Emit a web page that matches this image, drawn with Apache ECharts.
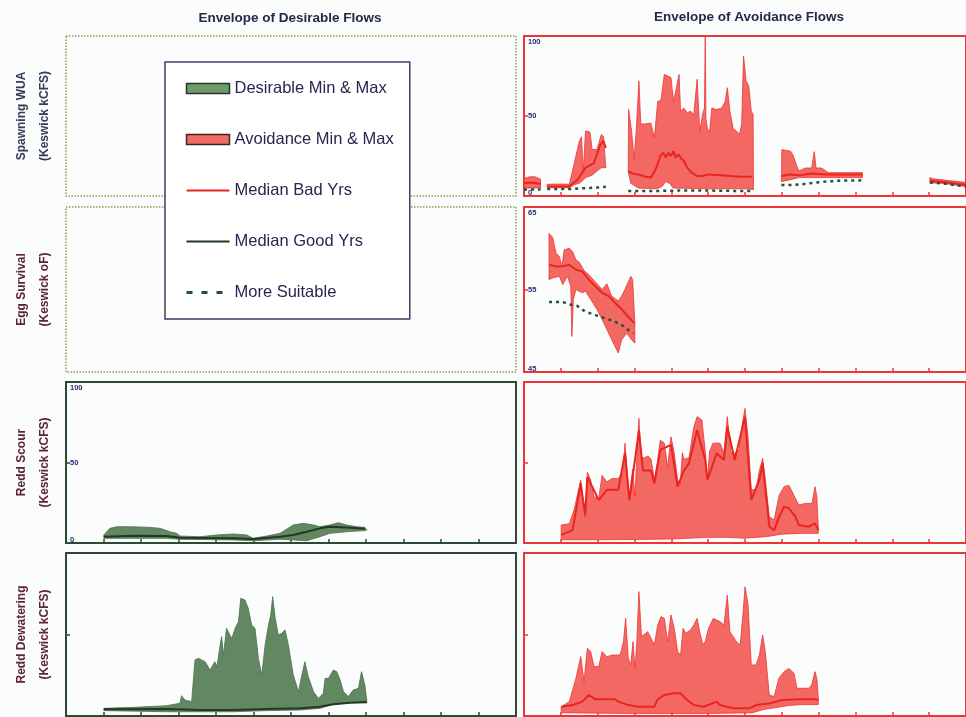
<!DOCTYPE html>
<html>
<head>
<meta charset="utf-8">
<script src="https://cdn.jsdelivr.net/npm/echarts@6.0.0/dist/echarts.min.js"></script>
<style>
  html, body { margin: 0; padding: 0; background: #fbfcfc; }
  #chart { width: 966px; height: 717px; }
</style>
</head>
<body>
<div id="chart"></div>
<script>
// x runs 0..12 (one tick per unit)
var xTicks = [1, 2, 3, 4, 5, 6, 7, 8, 9, 10, 11]

var rowNames = [
  'Spawning WUA\n(Keswick kCFS)',
  'Egg Survival\n(Keswick oF)',
  'Redd Scour\n(Keswick kCFS)',
  'Redd Dewatering\n(Keswick kCFS)'
]
var flowTicks = [0, 50, 100]
var tempTicks = [45, 55, 65]

// Spawning WUA - avoidance (five separate runs)
var spawnAvoidMax = [
  [[0, 11], [0.15, 12], [0.3, 12], [0.45, 10.5]],
  [[0.63, 7.3], [0.9, 7.5], [1.23, 7.3], [1.36, 20], [1.5, 34], [1.56, 37], [1.61, 15], [1.67, 40.6], [1.79, 40], [1.85, 29], [1.98, 29], [2.1, 38.5], [2.16, 37], [2.22, 17.7]],
  [[2.83, 15], [2.84, 54], [2.92, 40.6], [2.99, 23], [3.05, 42], [3.12, 72], [3.17, 45], [3.28, 45], [3.44, 45.6], [3.54, 36.5], [3.63, 59], [3.72, 60], [3.81, 76], [3.99, 74], [4.06, 59], [4.15, 69], [4.21, 76], [4.25, 53], [4.34, 55], [4.43, 52], [4.52, 53], [4.61, 51], [4.7, 73], [4.77, 40.6], [4.86, 52], [4.9, 55], [4.92, 100], [4.94, 48], [4.98, 42], [5.04, 40], [5.1, 55], [5.23, 54], [5.37, 55], [5.46, 59], [5.52, 67.7], [5.59, 53], [5.68, 42], [5.77, 40.6], [5.85, 38.5], [5.91, 45], [5.96, 87.5], [6.03, 72], [6.1, 69], [6.17, 53], [6.22, 51], [6.23, 4]],
  [[6.99, 9], [7.0, 29], [7.12, 28.5], [7.24, 28], [7.3, 25.8], [7.41, 18.5], [7.46, 15.6], [7.64, 17.5], [7.81, 17.5], [7.88, 27.7], [7.93, 17.5], [8.08, 17.5], [8.17, 16], [8.26, 14.6], [9.19, 14.6]],
  [[11.02, 11.5], [11.1, 10.8], [11.4, 10], [11.8, 9], [12, 8.5]]
]
var spawnAvoidMin = [
  [[0, 5], [0.45, 5]],
  [[0.63, 5.2], [1.23, 5.2], [1.36, 7], [1.5, 8], [1.61, 10], [1.67, 11.5], [1.85, 13], [2.0, 16], [2.1, 17.7], [2.22, 17.7]],
  [[2.83, 15], [2.9, 8], [3.1, 5], [3.6, 4.5], [3.75, 6], [3.85, 9], [3.95, 8], [4.05, 5], [5.0, 4.5], [6.0, 4.5], [6.23, 4]],
  [[6.99, 9], [7.2, 10], [7.46, 11.5], [9.19, 11.5]],
  [[11.02, 8.3], [11.4, 7.8], [11.8, 6.5], [12, 6]]
]
var spawnBadMedian = [
  [[0, 8], [0.2, 8.5], [0.45, 7.5]],
  [[0.63, 6], [1.23, 6], [1.45, 10], [1.67, 17.7], [1.9, 20.6], [2.07, 32], [2.16, 34.4], [2.22, 30]],
  [[2.83, 15.6], [2.95, 14], [3.1, 13.5], [3.3, 12], [3.45, 11.5], [3.6, 18], [3.7, 25], [3.78, 27], [3.85, 24], [3.92, 27], [3.99, 25], [4.06, 28], [4.12, 24], [4.2, 26], [4.28, 23], [4.34, 22], [4.43, 17.7], [4.55, 14.6], [4.7, 12.5], [4.85, 12.5], [5.0, 13.5], [5.3, 13], [5.6, 12.5], [5.9, 12], [6.2, 12]],
  [[6.99, 12.5], [7.2, 13.5], [7.5, 13], [7.8, 14], [8.2, 13.5], [8.6, 13.5], [9.19, 13.5]],
  [[11.02, 9.5], [11.4, 8.8], [11.8, 7.5], [12, 7]]
]
var spawnSuitable = [
  [[0, 4], [0.45, 4]],
  [[0.63, 4.3], [1.2, 4.3], [1.6, 4.8], [2.0, 5.3], [2.22, 5.8]],
  [[2.83, 3.1], [3.5, 3.1], [4.2, 3.4], [5.0, 3.4], [5.6, 3.2], [6.23, 3.1]],
  [[6.99, 6.9], [7.3, 6.9], [7.6, 7.5], [7.9, 8.3], [8.2, 9], [8.6, 9.6], [9.19, 9.8]],
  [[11.02, 8.5], [11.4, 7.8], [11.8, 6.5], [12, 6]]
]

// Egg survival - avoidance (deg F)
var eggAvoidMax = [[0.68, 61.8], [0.78, 61.3], [0.87, 59.4], [0.96, 59], [1.03, 57.8], [1.09, 59.8], [1.23, 60], [1.32, 59.6], [1.41, 58.6], [1.5, 58.3], [1.63, 57.3], [1.76, 56.8], [1.94, 55.9], [2.12, 55], [2.25, 55.7], [2.38, 54.2], [2.56, 53.6], [2.65, 54.2], [2.74, 55], [2.9, 56.6], [2.95, 56.2], [3.01, 50.9]]
var eggAvoidMin = [[0.68, 56.2], [0.78, 56.4], [0.96, 56.6], [1.05, 55.6], [1.18, 56.6], [1.27, 55.4], [1.3, 49.3], [1.34, 53.8], [1.41, 55], [1.58, 54.6], [1.67, 54.8], [1.81, 53.8], [1.98, 52.6], [2.16, 51], [2.34, 49.3], [2.47, 48.1], [2.56, 47.3], [2.65, 48.9], [2.79, 49.7], [2.92, 48.9], [3.01, 48.5]]
var eggBadMedian = [[0.68, 58], [0.87, 57.8], [1.05, 57.8], [1.23, 58], [1.41, 57.4], [1.58, 57.2], [1.76, 56.2], [1.94, 55.4], [2.12, 54.6], [2.3, 54.2], [2.47, 53.4], [2.65, 52.6], [2.83, 51.7], [3.0, 50.9]]
var eggSuitable = [[0.68, 53.5], [1.05, 53.5], [1.23, 53.2], [1.45, 53], [1.67, 52.3], [1.94, 51.9], [2.21, 51.5], [2.47, 51.1], [2.65, 50.7], [2.83, 50.1], [2.96, 49.7]]

// Redd scour (kCFS)
var scourDesireMax = [[1.01, 5], [1.17, 9.1], [1.35, 10.1], [1.8, 10.1], [2.24, 9.7], [2.51, 9.1], [2.77, 7], [2.95, 6], [3.04, 4.3], [3.57, 3.9], [4.02, 5], [4.46, 5.6], [4.82, 5], [4.99, 2.9], [5.35, 4.3], [5.71, 6], [5.88, 8.5], [6.06, 11.2], [6.33, 12.2], [6.6, 11.2], [6.77, 10.1], [7.04, 11.2], [7.26, 12.6], [7.48, 11.2], [7.75, 10.1], [7.97, 9.7], [8.02, 8]]
var scourDesireMin = [[1.01, 2.9], [1.8, 2.9], [2.68, 2.9], [3.04, 2.3], [4.46, 1.9], [4.99, 1.4], [5.71, 2.3], [6.06, 1.9], [6.42, 1.4], [6.77, 3.9], [7.04, 6], [7.48, 7], [7.97, 7.7], [8.02, 8]]
var scourGoodMedian = [[1.01, 3.9], [1.8, 4.5], [2.68, 4.3], [3.04, 3.3], [4.46, 2.9], [4.99, 2.5], [5.71, 3.9], [6.06, 5], [6.42, 7], [6.77, 9.1], [7.04, 10.1], [7.48, 9.7], [7.97, 8.9]]
var scourAvoidMax = [[1.01, 11.2], [1.23, 12], [1.36, 20.5], [1.48, 33], [1.54, 39], [1.61, 25], [1.66, 16], [1.72, 44], [1.81, 39], [1.9, 28.8], [2.03, 27.7], [2.12, 42], [2.25, 38], [2.39, 40], [2.56, 40], [2.7, 45], [2.74, 62], [2.8, 45], [2.86, 29], [2.95, 46], [3.01, 29], [3.07, 55.6], [3.12, 77.4], [3.17, 55], [3.23, 52.6], [3.37, 54], [3.45, 52], [3.54, 39.5], [3.63, 51.5], [3.7, 64], [3.81, 62], [3.9, 47], [3.99, 66], [4.08, 55.7], [4.17, 39.5], [4.24, 36], [4.3, 56], [4.34, 52], [4.48, 53], [4.61, 72], [4.7, 78.5], [4.83, 76.4], [4.92, 57], [4.98, 39.5], [5.04, 57], [5.13, 62], [5.32, 62], [5.43, 56], [5.52, 78.5], [5.61, 56.7], [5.72, 55.7], [5.84, 58], [5.93, 74.3], [6.0, 83.6], [6.08, 66], [6.17, 33], [6.3, 33], [6.39, 45], [6.48, 52.6], [6.55, 39.5], [6.66, 16.4], [6.79, 14.3], [6.93, 29.8], [7.06, 35], [7.19, 35.8], [7.28, 31.9], [7.37, 27.7], [7.46, 23.6], [7.64, 24.6], [7.82, 24.6], [7.9, 35], [7.95, 28.8], [7.99, 10]]
var scourAvoidMin = [[1.01, 2], [2.0, 2], [3.0, 2.2], [4.0, 2.5], [5.0, 3.5], [5.5, 3.5], [6.0, 3], [6.6, 4], [7.0, 5.5], [7.5, 6], [7.99, 6]]
var scourBadMedian = [[1.01, 5], [1.32, 8], [1.54, 37], [1.66, 17.6], [1.72, 41], [2.03, 26.7], [2.25, 33], [2.56, 33], [2.74, 56], [2.86, 26.7], [2.95, 41], [3.12, 70], [3.23, 45], [3.45, 45], [3.54, 37], [3.7, 57.8], [3.99, 60.9], [4.17, 35], [4.34, 45], [4.48, 49.5], [4.7, 70], [4.92, 51.6], [4.98, 39.3], [5.23, 55.7], [5.43, 51.6], [5.52, 72.2], [5.72, 51.6], [6.0, 78.5], [6.17, 26.7], [6.39, 39.3], [6.48, 49.5], [6.66, 10.1], [6.79, 8], [6.93, 16.4], [7.06, 22.6], [7.19, 21.5], [7.37, 16.4], [7.46, 11.2], [7.73, 10.1], [7.9, 12.2], [7.99, 8]]

// Redd dewatering (kCFS)
var dewatDesireMax = [[1.01, 4.7], [1.8, 5.3], [2.68, 6.3], [3.04, 7.8], [3.08, 12.5], [3.17, 9.8], [3.35, 8.8], [3.44, 34.4], [3.53, 35.4], [3.71, 33.3], [3.84, 28.2], [3.97, 33.3], [4.02, 30.3], [4.06, 35.4], [4.11, 43.6], [4.15, 48.7], [4.2, 37.4], [4.28, 53.8], [4.37, 49.7], [4.42, 47.6], [4.51, 53.8], [4.6, 57.9], [4.66, 72.2], [4.77, 71.2], [4.86, 66.1], [4.95, 55.8], [5.04, 53.8], [5.13, 35.4], [5.22, 25.2], [5.31, 43.6], [5.4, 55.8], [5.46, 62], [5.51, 73.2], [5.58, 59.9], [5.66, 49.7], [5.75, 50.7], [5.84, 52.8], [5.93, 43.6], [6.06, 25.2], [6.2, 14.9], [6.28, 24.1], [6.37, 33.3], [6.46, 24.1], [6.6, 14.9], [6.73, 10.8], [6.86, 13.9], [6.91, 23.1], [7.0, 23.1], [7.13, 28.2], [7.22, 27.2], [7.31, 22.1], [7.4, 14.9], [7.53, 11.9], [7.66, 16], [7.8, 17], [7.88, 27.2], [7.97, 19], [8.02, 9.8]]
var dewatDesireMin = [[1.01, 3.3], [2.68, 2.6], [4.46, 2.6], [5.35, 3.3], [6.24, 3.7], [6.77, 4.7], [7.13, 7.2], [7.57, 8.2], [8.02, 8]]
var dewatGoodMedian = [[1.01, 4.1], [2.68, 4.3], [3.57, 3.7], [4.46, 3.7], [5.35, 4.3], [6.24, 4.7], [6.77, 5.7], [7.13, 7.2], [7.57, 8.2], [8.02, 8.6]]
var dewatAvoidMax = [[1.01, 5.7], [1.23, 8.8], [1.41, 23.1], [1.54, 36.4], [1.63, 21], [1.72, 41.5], [1.81, 39.5], [1.9, 30.3], [2.03, 30.3], [2.12, 39.5], [2.25, 36.4], [2.39, 37.4], [2.61, 37.4], [2.7, 45.6], [2.76, 59.9], [2.83, 35.4], [2.9, 31.3], [2.96, 45.6], [3.01, 29.2], [3.06, 43.6], [3.12, 76.3], [3.19, 48.7], [3.36, 51.7], [3.45, 47.6], [3.54, 43.6], [3.63, 55.8], [3.72, 61], [3.81, 59.9], [3.9, 45.6], [3.99, 62], [4.08, 53.8], [4.17, 39.5], [4.25, 37.4], [4.32, 53.8], [4.39, 50.7], [4.52, 52.8], [4.61, 55.8], [4.7, 59.9], [4.77, 51.7], [4.86, 43.6], [4.92, 45.6], [5.01, 53.8], [5.14, 59.9], [5.32, 57.9], [5.43, 55.8], [5.52, 74.2], [5.59, 51.7], [5.77, 45.6], [5.87, 43.6], [5.95, 64], [6.0, 79.3], [6.08, 69.1], [6.17, 31.3], [6.3, 31.3], [6.39, 37.4], [6.48, 49.7], [6.55, 39.5], [6.66, 12.9], [6.79, 11.9], [6.92, 23.1], [7.06, 27.2], [7.19, 29.2], [7.33, 26.2], [7.41, 17], [7.73, 17], [7.81, 19], [7.9, 27.2], [7.95, 23.1], [7.99, 10.8]]
var dewatAvoidMin = [[1.01, 2], [3.0, 1.5], [5.0, 1.5], [6.2, 2], [6.5, 4], [6.8, 5], [7.2, 6.5], [7.6, 7], [7.99, 7]]
var dewatBadMedian = [[1.01, 5.7], [1.32, 6.7], [1.58, 8.8], [1.76, 12.9], [1.94, 10.2], [2.47, 10.2], [2.56, 8.8], [2.83, 6.7], [3.1, 5.7], [3.54, 5.7], [3.63, 10.2], [3.81, 12.9], [4.08, 13.9], [4.25, 13.9], [4.43, 9.8], [4.61, 6.7], [4.88, 5.7], [5.23, 8.8], [5.32, 6.7], [5.68, 4.7], [6.12, 4.7], [6.3, 6.7], [6.66, 7.7], [7.01, 9.8], [7.46, 10.2], [7.9, 10.2], [7.99, 10]]

var FONT = '"Liberation Sans", Arial, Helvetica, sans-serif'
var RED_EDGE = '#ef3434'
var RED_FILL = 'rgba(242, 88, 82, 0.9)'
var RED_LINE = '#e8261f'
var GREEN_FILL = 'rgba(90, 130, 90, 0.95)'
var GREEN_EDGE = '#4b6f4b'
var GREEN_LINE = '#233823'
var SUIT = '#24503a'
var DESIRE_BORDER = '#2e4934'

var rowTops = [36, 207, 382, 553]
var rowHeights = [160, 165, 161, 163]
var colLefts = [66, 524]

// grid index = row * 2 + col
var panels = [
  { kind: 'empty' }, { kind: 'avoid', ticks: flowTicks, labels: true },
  { kind: 'empty' }, { kind: 'avoid', ticks: tempTicks, labels: true },
  { kind: 'desire', ticks: flowTicks, labels: true }, { kind: 'avoid', ticks: flowTicks, labels: false },
  { kind: 'desire', ticks: flowTicks, labels: false }, { kind: 'avoid', ticks: flowTicks, labels: false }
]

function tickFormatter(ticks) {
  return function (v) {
    if (v === ticks[2]) return '{t|' + v + '}'
    if (v === ticks[0]) return '{b|' + v + '}'
    return '{m|' + v + '}'
  }
}

var grids = [], xAxes = [], yAxes = []
panels.forEach(function (p, i) {
  var row = Math.floor(i / 2), col = i % 2
  var edge = p.kind === 'avoid' ? RED_EDGE : p.kind === 'desire' ? DESIRE_BORDER : '#8f9a52'
  grids.push({
    left: colLefts[col], top: rowTops[row], width: 450, height: rowHeights[row],
    show: true, borderColor: edge, borderWidth: p.kind === 'empty' ? 1.5 : 2,
    borderType: p.kind === 'empty' ? 'dotted' : 'solid', backgroundColor: 'transparent'
  })
  xAxes.push({
    type: 'value', gridIndex: i, min: 0, max: 12, show: p.kind !== 'empty',
    axisLine: { show: false },
    axisTick: { show: true, inside: true, length: 4, customValues: xTicks, lineStyle: { color: edge, width: 1.5 } },
    axisLabel: { show: false }, splitLine: { show: false }
  })
  var ya = {
    type: 'value', gridIndex: i, splitLine: { show: false }, axisLine: { show: false }
  }
  if (p.kind === 'empty') {
    ya.min = 0; ya.max = 100
    ya.axisTick = { show: false }
    ya.axisLabel = { show: false }
  } else {
    ya.min = p.ticks[0]; ya.max = p.ticks[2]
    ya.axisTick = { show: true, inside: true, length: 4, customValues: [p.ticks[1]], lineStyle: { color: edge, width: 1.5 } }
    ya.axisLabel = {
      show: p.labels, inside: true, margin: 4, customValues: p.ticks,
      color: '#262b78', fontSize: 7.5, fontWeight: 'bold', fontFamily: FONT,
      formatter: tickFormatter(p.ticks),
      rich: { t: { padding: [12, 0, 0, 0] }, b: { padding: [0, 0, 6, 0] }, m: {} }
    }
  }
  if (col === 0) {
    ya.name = rowNames[row]
    ya.nameLocation = 'middle'
    ya.nameRotate = 90
    ya.nameGap = 10
    ya.nameTextStyle = {
      fontSize: 12, fontWeight: 'bold', lineHeight: 23, fontFamily: FONT,
      color: row === 0 ? '#363a58' : '#5c2634'
    }
  }
  yAxes.push(ya)
})

function band(name, gi, upSegs, loSegs, fill, edge) {
  var polys = upSegs.map(function (seg, k) {
    return seg.concat(loSegs[k].slice().reverse())
  })
  return {
    name: name, type: 'custom', xAxisIndex: gi, yAxisIndex: gi,
    clip: true, silent: true, z: 2,
    itemStyle: { color: fill },
    data: [].concat.apply([], polys),
    renderItem: function (params, api) {
      if (params.dataIndex !== 0) return null
      return {
        type: 'group',
        children: polys.map(function (poly) {
          return {
            type: 'polygon',
            shape: { points: poly.map(function (pt) { return api.coord(pt) }) },
            style: { fill: fill, stroke: edge, lineWidth: 0.8 }
          }
        })
      }
    }
  }
}

function joinSegs(segs) {
  var out = []
  segs.forEach(function (s, k) {
    if (k > 0) out.push(['-', '-'])
    out = out.concat(s)
  })
  return out
}

function line(name, gi, pts, color, width, dash) {
  return {
    name: name, type: 'line', xAxisIndex: gi, yAxisIndex: gi,
    data: pts, symbol: 'none', showSymbol: false, connectNulls: false,
    silent: true, z: 3, clip: true,
    itemStyle: { color: color },
    lineStyle: { color: color, width: width, type: dash || 'solid' }
  }
}

var series = [
  band('Avoidance Min & Max', 1, spawnAvoidMax, spawnAvoidMin, RED_FILL, RED_EDGE),
  line('Median Bad Yrs', 1, joinSegs(spawnBadMedian), RED_LINE, 2),
  line('More Suitable', 1, joinSegs(spawnSuitable), SUIT, 2.5, [3, 4]),

  band('Avoidance Min & Max', 3, [eggAvoidMax], [eggAvoidMin], RED_FILL, RED_EDGE),
  line('Median Bad Yrs', 3, eggBadMedian, RED_LINE, 2),
  line('More Suitable', 3, eggSuitable, SUIT, 2.5, [3, 4]),

  band('Desirable Min & Max', 4, [scourDesireMax], [scourDesireMin], GREEN_FILL, GREEN_EDGE),
  line('Median Good Yrs', 4, scourGoodMedian, GREEN_LINE, 2),
  band('Avoidance Min & Max', 5, [scourAvoidMax], [scourAvoidMin], RED_FILL, RED_EDGE),
  line('Median Bad Yrs', 5, scourBadMedian, RED_LINE, 2),

  band('Desirable Min & Max', 6, [dewatDesireMax], [dewatDesireMin], GREEN_FILL, GREEN_EDGE),
  line('Median Good Yrs', 6, dewatGoodMedian, GREEN_LINE, 2),
  band('Avoidance Min & Max', 7, [dewatAvoidMax], [dewatAvoidMin], RED_FILL, RED_EDGE),
  line('Median Bad Yrs', 7, dewatBadMedian, RED_LINE, 2)
]

var chart = echarts.init(document.getElementById('chart'), null, { renderer: 'canvas' })
var option = {
  backgroundColor: '#fbfcfc',
  animation: false,
  title: [
    {
      text: 'Envelope of Desirable Flows', left: 290, top: 11, textAlign: 'center', padding: 0,
      textStyle: { fontSize: 13.5, fontWeight: 'bold', color: '#26284a', fontFamily: FONT }
    },
    {
      text: 'Envelope of Avoidance Flows', left: 749, top: 10, textAlign: 'center', padding: 0,
      textStyle: { fontSize: 13.5, fontWeight: 'bold', color: '#26284a', fontFamily: FONT }
    }
  ],
  legend: {
    orient: 'vertical', left: 165, top: 62,
    itemWidth: 43, itemHeight: 10, itemGap: 34, itemTextGap: 3,
    padding: [18, 16, 18, 20],
    backgroundColor: '#ffffff', borderColor: '#3c3c6c', borderWidth: 1.5,
    selectedMode: false,
    textStyle: { fontSize: 16.5, color: '#26264e', fontFamily: FONT },
    data: [
      { name: 'Desirable Min & Max', icon: 'rect', itemStyle: { color: '#6f9b6c', borderColor: '#263626', borderWidth: 1.5 } },
      { name: 'Avoidance Min & Max', icon: 'rect', itemStyle: { color: '#f06b66', borderColor: '#3a2525', borderWidth: 1.5 } },
      { name: 'Median Bad Yrs', itemStyle: { opacity: 0 } },
      { name: 'Median Good Yrs', itemStyle: { opacity: 0 } },
      { name: 'More Suitable', itemStyle: { opacity: 0 }, lineStyle: { type: [6, 9], width: 3 } }
    ]
  },
  grid: grids,
  xAxis: xAxes,
  yAxis: yAxes,
  series: series
}
chart.setOption(option)
</script>
</body>
</html>
